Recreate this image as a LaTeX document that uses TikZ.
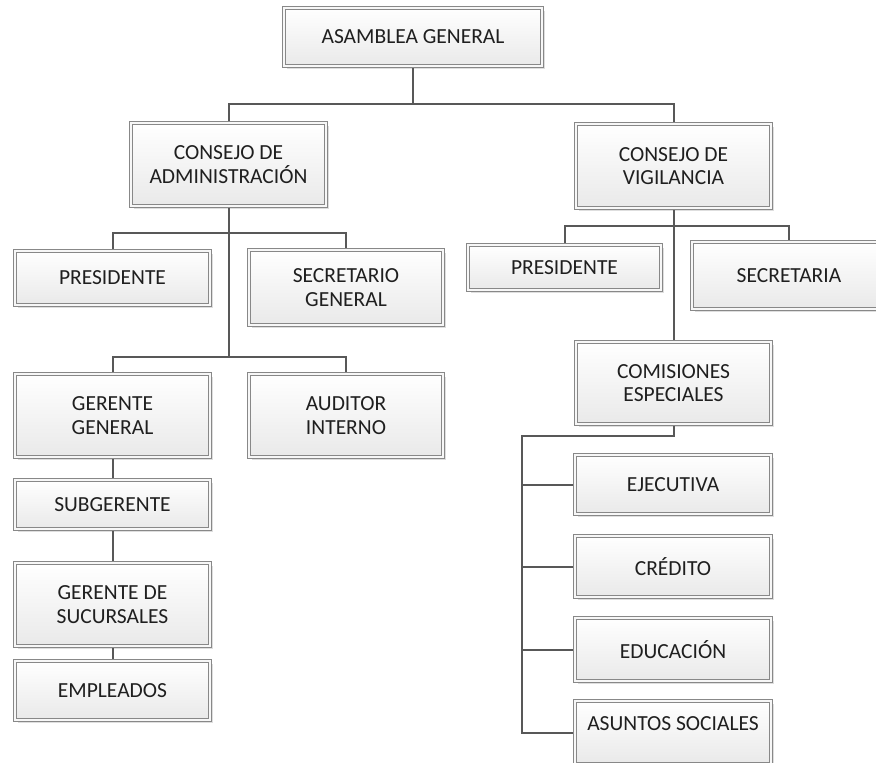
\documentclass[tikz,border=0pt]{standalone}
\usepackage{fontspec}
\setmainfont{Carlito}
\usetikzlibrary{shadows}

\definecolor{linkgray}{HTML}{585858}
\definecolor{framegray}{HTML}{888888}
\definecolor{boxtop}{HTML}{FFFFFF}
\definecolor{boxbottom}{HTML}{E9E9E9}
\definecolor{labelink}{HTML}{1F1F1F}

\begin{document}
\begin{tikzpicture}[x=1pt,y=-1pt,
  orgbox/.style={rectangle, draw=framegray, line width=0.8pt,
    double=white!97!black, double distance=2.2pt,
    top color=boxtop, bottom color=boxbottom,
    drop shadow={shadow xshift=3pt, shadow yshift=-3pt, fill=black!13, opacity=1},
    align=center, text=labelink, inner sep=0pt, outer sep=1.9pt,
    font=\fontsize{21.5}{23.5}\selectfont},
  size/.style 2 args={minimum width={#1pt-3.8pt}, minimum height={#2pt-3.8pt}},
  link/.style={draw=linkgray, line width=2pt}
]
\fill[white] (0,0) rectangle (876,763);
\clip[use as bounding box] (0,0) rectangle (876,763);

% top level
\node[orgbox, size={262}{62}] (asam) at (413,37) {ASAMBLEA GENERAL};

% councils
\node[orgbox, size={199}{87}] (cadm) at (228.5,164.5) {CONSEJO DE\\ADMINISTRACIÓN};
\node[orgbox, size={199}{88}] (cvig) at (673.5,166) {CONSEJO DE\\VIGILANCIA};

% administration branch
\node[orgbox, size={199}{58}] (pres1) at (112.5,278) {PRESIDENTE};
\node[orgbox, size={198}{79}] (secgen) at (346,287.5) {SECRETARIO\\GENERAL};
\node[orgbox, size={199}{87}] (gerg) at (112.5,415.5) {GERENTE\\GENERAL};
\node[orgbox, size={198}{87}] (aud) at (346,415.5) {AUDITOR\\INTERNO};
\node[orgbox, size={199}{53}] (subg) at (112.5,504.5) {SUBGERENTE};
\node[orgbox, size={199}{87}] (gsuc) at (112.5,604.5) {GERENTE DE\\SUCURSALES};
\node[orgbox, size={199}{63}] (empl) at (112.5,690.5) {EMPLEADOS};

% vigilance branch
\node[orgbox, size={197}{49}] (pres2) at (564.5,267.5) {PRESIDENTE};
\node[orgbox, size={198}{71}] (secr) at (789,275.5) {SECRETARIA};
\node[orgbox, size={199}{86}] (comis) at (673.5,383) {COMISIONES\\ESPECIALES};

% special commissions
\node[orgbox, size={200}{63}] (ejec) at (673,484.5) {EJECUTIVA};
\node[orgbox, size={200}{65}] (cred) at (673,566.5) {CRÉDITO};
\node[orgbox, size={200}{67}] (educ) at (673,649.5) {EDUCACIÓN};
\node[orgbox, size={200}{67}, text depth=18pt] (asun) at (673,732.5) {ASUNTOS SOCIALES};

% bus points
\coordinate (b1) at (413,104);
\coordinate (b2) at (228.5,233);
\coordinate (b3) at (228.5,357);
\coordinate (b4) at (673.5,226);
\coordinate (b5) at (522,436);

% connectors
\draw[link] (asam.south) -- (b1);
\draw[link] (cadm.north) |- (b1) -| (cvig.north);

\draw[link] (cadm.south) -- (b3);
\draw[link] (pres1.north) |- (b2) -| (secgen.north);
\draw[link] (gerg.north) |- (b3) -| (aud.north);
\draw[link] (gerg.south) -- (subg.north);
\draw[link] (subg.south) -- (gsuc.north);
\draw[link] (gsuc.south) -- (empl.north);

\draw[link] (pres2.north) |- (b4) -| (secr.north);
\draw[link] (cvig.south) -- (comis.north);

\draw[link] (comis.south) |- (b5) |- (asun.west);
\draw[link] (b5) |- (ejec.west);
\draw[link] (b5) |- (cred.west);
\draw[link] (b5) |- (educ.west);
\end{tikzpicture}
\end{document}
